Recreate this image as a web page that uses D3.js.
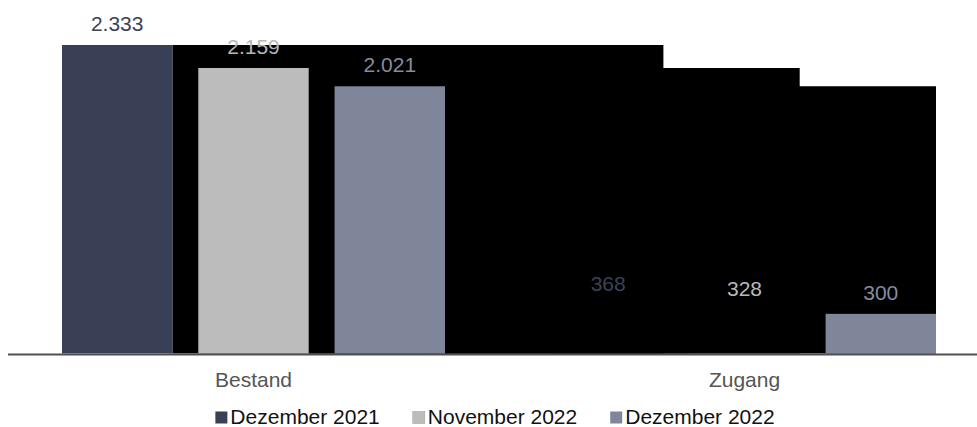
<!DOCTYPE html>
<html>
<head>
<meta charset="utf-8">
<script src="https://cdn.jsdelivr.net/npm/d3@7"></script>
<style>
  html, body { margin: 0; padding: 0; background: #fff; }
  svg { display: block; font-family: "Liberation Sans", Arial, sans-serif; }
</style>
</head>
<body>
<svg id="chart" width="977" height="427"></svg>
<script>
// Categories and series
const categories = ["Bestand", "Zugang"];
const seriesNames = ["Dezember 2021", "November 2022", "Dezember 2022"];
const seriesColors = ["#394056", "#bcbcbc", "#7f8699"];
const labelColors = ["#3b4257", "#b8b8b8", "#868ca0"];

// Values per series, in category order
const dez2021 = [2333, 368];
const nov2022 = [2159, 328];
const dez2022 = [2021, 300];
const valueLabels = [["2.333", "368"], ["2.159", "328"], ["2.021", "300"]];

const seriesValues = [dez2021, nov2022, dez2022];

const svg = d3.select("#chart");
const baseY = 353.5;

const x0 = d3.scaleBand().domain(categories).range([8, 990]).paddingInner(0).paddingOuter(0);
const x1 = d3.scaleBand().domain(seriesNames).range([54, 437]).paddingInner(0.19).paddingOuter(0);
const y = d3.scaleLinear().domain([0, d3.max(seriesValues.flat())]).range([baseY, 45]);

const bw = x1.bandwidth();

// Filled step area joining each series' bars
const area = d3.area()
  .x(d => d.x)
  .y0(baseY)
  .y1(d => y(d.v))
  .curve(d3.curveStepAfter);

const groups = svg.append("g");
seriesNames.forEach((name, si) => {
  const vals = seriesValues[si];
  const g = groups.append("g");
  const pts = categories.map((c, ci) => ({ x: x0(c) + x1(name) + bw, v: vals[ci] }));
  g.append("path")
    .attr("d", area(pts))
    .attr("fill", "#000");
  g.selectAll("rect")
    .data(categories.map((c, ci) => ({ c, v: vals[ci] })))
    .join("rect")
    .attr("x", d => x0(d.c) + x1(name))
    .attr("y", d => y(d.v))
    .attr("width", bw)
    .attr("height", d => baseY - y(d.v))
    .attr("fill", seriesColors[si]);
});

// Value labels
const labels = svg.append("g")
  .attr("font-size", 21)
  .attr("text-anchor", "middle");
seriesNames.forEach((name, si) => {
  categories.forEach((c, ci) => {
    labels.append("text")
      .attr("x", x0(c) + x1(name) + bw / 2)
      .attr("y", y(seriesValues[si][ci]) - 14)
      .attr("fill", labelColors[si])
      .text(valueLabels[si][ci]);
  });
});

// Baseline
svg.append("line")
  .attr("x1", 8).attr("x2", 977)
  .attr("y1", baseY + 1).attr("y2", baseY + 1)
  .attr("stroke", "#505050")
  .attr("stroke-width", 2);

// Category labels
svg.append("g")
  .selectAll("text")
  .data(categories)
  .join("text")
  .attr("x", d => x0(d) + x0.bandwidth() / 2)
  .attr("y", 387)
  .attr("text-anchor", "middle")
  .attr("font-size", 21)
  .attr("fill", "#555")
  .text(d => d);

// Legend
const legend = svg.append("g").attr("font-size", 21);
const items = seriesNames.map((name, i) => {
  const g = legend.append("g");
  g.append("rect")
    .attr("x", 0).attr("y", -12.5)
    .attr("width", 12).attr("height", 12)
    .attr("fill", seriesColors[i])
    .attr("stroke", i === 1 ? "#999" : "none")
    .attr("stroke-width", 0.5);
  const t = g.append("text")
    .attr("x", 15).attr("y", 0)
    .attr("fill", "#111")
    .text(name);
  return { g, w: 15 + t.node().getComputedTextLength() };
});
const gap = 33;
const total = d3.sum(items, d => d.w) + gap * (items.length - 1);
let lx = 495 - total / 2;
items.forEach(it => {
  it.g.attr("transform", `translate(${lx},424)`);
  lx += it.w + gap;
});
</script>
</body>
</html>
